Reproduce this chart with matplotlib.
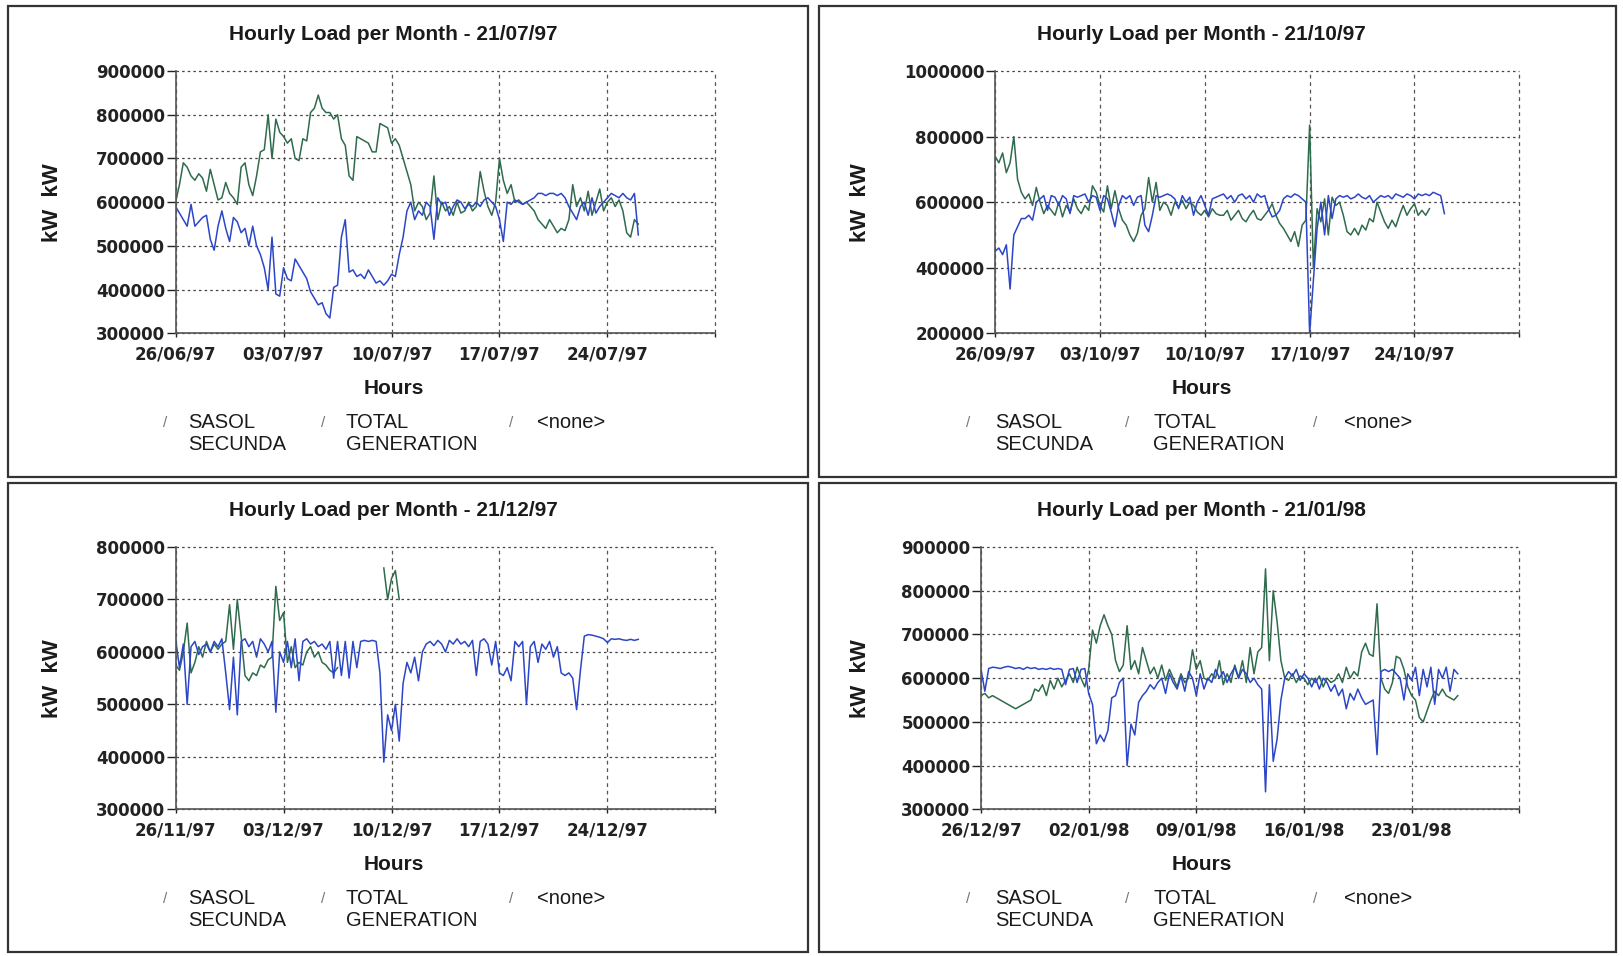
import matplotlib
matplotlib.use("Agg")
import matplotlib.pyplot as plt
import matplotlib.patches as mpatches
import numpy as np
import pandas as pd

nan = np.nan

# hourly load, one value every 6 hours, in thousands of kW
sasol_jul = [590, 575, 560, 545, 595, 545, 555, 565, 570, 515, 490, 545, 580, 540, 510, 565,
             555, 530, 540, 500, 545, 500, 480, 450, 400, 520, 390, 385, 450, 425, 420, 470,
             455, 440, 425, 395, 380, 365, 370, 345, 335, 405, 410, 520, 560, 440, 445, 430,
             435, 425, 445, 430, 415, 420, 410, 420, 435, 430, 480, 520, 580, 600, 560, 580,
             570, 600, 590, 515, 610, 595, 600, 570, 590, 605, 600, 585, 595, 590, 600, 590,
             605, 610, 600, 590, 560, 510, 600, 595, 605, 600, 595, 600, 605, 610, 620, 620,
             615, 620, 620, 615, 620, 610, 590, 575, 560, 590, 600, 570, 610, 575, 590, 600,
             610, 620, 615, 610, 620, 610, 605, 620, 525]
total_jul = [600, 640, 690, 680, 660, 650, 665, 655, 625, 675, 640, 605, 610, 645, 620, 610,
             595, 680, 690, 640, 615, 660, 715, 720, 800, 700, 790, 760, 750, 735, 745, 700,
             695, 745, 740, 805, 815, 845, 815, 805, 805, 790, 800, 745, 730, 660, 650, 750,
             745, 740, 735, 715, 715, 780, 775, 770, 735, 745, 730, 700, 670, 640, 580, 600,
             590, 560, 575, 660, 560, 600, 580, 590, 570, 600, 575, 580, 600, 580, 590, 670,
             625, 590, 570, 600, 700, 650, 620, 640, 600, 605, 595, 600, 590, 580, 560, 550,
             540, 560, 545, 530, 540, 535, 560, 640, 590, 610, 580, 625, 570, 600, 630, 580,
             600, 610, 590, 605, 580, 530, 520, 560, 550]

sasol_oct = [450, 460, 440, 470, 335, 500, 525, 550, 550, 560, 545, 600, 610, 620, 575, 620,
             615, 590, 620, 610, 565, 620, 615, 620, 625, 600, 620, 615, 575, 620, 610, 570,
             525, 590, 620, 610, 620, 590, 615, 620, 530, 510, 560, 620, 615, 620, 625, 620,
             610, 580, 620, 600, 615, 560, 600, 620, 590, 560, 610, 615, 620, 625, 610, 620,
             600, 620, 625, 610, 620, 600, 625, 615, 620, 580, 555, 560, 575, 610, 620, 615,
             625, 620, 610, 600, 200, 360, 520, 600, 500, 620, 550, 610, 620, 615, 620, 610,
             615, 625, 615, 610, 620, 600, 610, 620, 615, 620, 610, 625, 620, 615, 625, 620,
             610, 625, 620, 625, 620, 630, 625, 620, 565]
total_oct = [740, 720, 750, 690, 720, 800, 670, 630, 610, 625, 590, 645, 600, 565, 590, 575,
             560, 600, 555, 590, 570, 610, 580, 565, 590, 575, 650, 630, 590, 570, 650, 580,
             635, 580, 545, 530, 500, 480, 505, 560, 580, 675, 600, 660, 575, 600, 590, 560,
             600, 585, 605, 580, 600, 590, 570, 560, 575, 555, 580, 565, 560, 560, 575, 545,
             560, 575, 550, 540, 560, 575, 550, 545, 560, 575, 595, 560, 535, 520, 500, 480,
             510, 465, 530, 545, 835, 400, 580, 540, 610, 500, 615, 590, 600, 560, 510, 500,
             520, 500, 530, 515, 550, 540, 600, 570, 540, 520, 545, 525, 560, 590, 560, 580,
             595, 560, 575, 560, 580]

sasol_dec = [625, 570, 615, 500, 610, 620, 595, 610, 615, 600, 620, 610, 625, 560, 490, 590,
             480, 620, 625, 610, 620, 590, 625, 615, 600, 620, 485, 600, 580, 620, 570, 625,
             545, 620, 625, 615, 620, 610, 615, 605, 620, 550, 620, 555, 620, 550, 620, 570,
             620, 622, 620, 622, 620, 560, 390, 480, 450, 500, 430, 540, 580, 560, 590, 545,
             600, 615, 620, 612, 622, 615, 600, 622, 615, 625, 615, 620, 610, 622, 555, 620,
             625, 615, 575, 620, 560, 555, 570, 545, 620, 610, 620, 500, 610, 620, 580, 615,
             605, 620, 590, 610, 560, 555, 560, 550, 490, 565, 630, 633, 632, 630, 628, 625,
             618, 625, 624, 625, 623, 622, 624, 622, 624]
total_dec = [575, 565, 600, 655, 560, 580, 610, 590, 620, 600, 615, 605, 615, 620, 690, 605,
             700, 630, 555, 545, 560, 555, 575, 570, 585, 590, 725, 660, 675, 580, 610, 570,
             580, 575, 600, 610, 590, 600, 580, 575, 565, 560, 570, nan, nan, nan, nan, nan,
             nan, nan, nan, nan, nan, nan, 760, 700, 740, 755, 700]

sasol_jan = [620, 570, 622, 625, 624, 622, 625, 627, 625, 622, 624, 620, 625, 622, 624, 620,
             622, 620, 623, 620, 622, 620, 585, 620, 622, 590, 620, 622, 565, 540, 450, 470,
             455, 480, 555, 560, 590, 600, 400, 495, 470, 545, 560, 570, 585, 575, 590, 600,
             565, 610, 590, 575, 605, 570, 615, 600, 560, 610, 575, 600, 590, 620, 600, 615,
             590, 610, 625, 600, 620, 610, 590, 600, 585, 575, 340, 585, 410, 460, 550, 600,
             615, 605, 620, 595, 610, 600, 580, 600, 575, 600, 590, 570, 585, 560, 575, 530,
             565, 550, 575, 555, 540, 545, 550, 425, 615, 620, 615, 620, 610, 600, 550, 610,
             595, 625, 560, 620, 580, 625, 540, 620, 600, 625, 570, 620, 610]
total_jan = [560, 565, 555, 560, 555, 550, 545, 540, 535, 530, 535, 540, 545, 550, 575, 570,
             585, 560, 595, 575, 600, 580, 595, 610, 590, 625, 600, 580, 620, 710, 680, 720,
             745, 720, 700, 640, 615, 630, 720, 620, 640, 610, 670, 640, 610, 625, 600, 630,
             595, 620, 600, 580, 610, 590, 600, 665, 620, 640, 600, 595, 610, 600, 640, 585,
             610, 590, 630, 600, 640, 590, 670, 610, 660, 670, 850, 640, 800, 730, 640, 600,
             595, 610, 590, 605, 600, 585, 600, 590, 605, 580, 600, 590, 595, 610, 590, 625,
             600, 615, 605, 660, 680, 655, 650, 770, 600, 575, 565, 590, 650, 645, 620, 580,
             560, 550, 510, 500, 525, 550, 570, 560, 575, 560, 555, 550, 560]

starts = ["1997-06-26", "1997-09-26", "1997-11-26", "1997-12-26"]
titles = ["Hourly Load per Month - 21/07/97", "Hourly Load per Month - 21/10/97",
          "Hourly Load per Month - 21/12/97", "Hourly Load per Month - 21/01/98"]
date_labels = [["26/06/97", "03/07/97", "10/07/97", "17/07/97", "24/07/97"],
               ["26/09/97", "03/10/97", "10/10/97", "17/10/97", "24/10/97"],
               ["26/11/97", "03/12/97", "10/12/97", "17/12/97", "24/12/97"],
               ["26/12/97", "02/01/98", "09/01/98", "16/01/98", "23/01/98"]]
series_names = ["SASOL\nSECUNDA", "TOTAL\nGENERATION", "<none>"]

sasol = [sasol_jul, sasol_oct, sasol_dec, sasol_jan]
total = [total_jul, total_oct, total_dec, total_jan]

BLUE = "#2c46c8"
GREEN = "#2f6b4d"
W, H = 1623, 956


def fx(x):
    return x / W


def fy(y):
    return 1 - y / H


plt.rcParams["font.family"] = ["DejaVu Sans"]
fig = plt.figure(figsize=(W / 100, H / 100), dpi=100)

# pixel layout of each panel: frame box, axes box, x of text items, vertical offset
layout = [
    dict(box=(8, 6, 808, 477), axes=(175.6, 71, 715.4, 333.3), cx=393.6, ylab=52,
         marks=[165, 323, 511], texts=[188.5, 346, 537], dy=0,
         ylim=(300000, 900000, 100000)),
    dict(box=(819, 6, 1616, 477), axes=(995.1, 71, 1519.3, 333.3), cx=1201.4, ylab=860,
         marks=[968, 1127, 1315.5], texts=[995.6, 1153, 1344], dy=0,
         ylim=(200000, 1000000, 200000)),
    dict(box=(8, 483, 808, 952), axes=(175.6, 71, 715.4, 333.3), cx=393.6, ylab=52,
         marks=[165, 323, 511], texts=[188.5, 346, 537], dy=476,
         ylim=(300000, 800000, 100000)),
    dict(box=(819, 483, 1616, 952), axes=(981, 71, 1519.3, 333.3), cx=1201.4, ylab=860,
         marks=[968, 1127, 1315.5], texts=[995.6, 1153, 1344], dy=476,
         ylim=(300000, 900000, 100000)),
]

for i, lay in enumerate(layout):
    dy = lay["dy"]
    x0, y0, x1, y1 = lay["box"]
    fig.add_artist(mpatches.Rectangle((fx(x0), fy(y1)), (x1 - x0) / W, (y1 - y0) / H,
                                      transform=fig.transFigure, fill=False,
                                      lw=1.6, ec="#333333"))

    l, t, r, b = lay["axes"]
    ax = fig.add_axes([fx(l), fy(b + dy), (r - l) / W, (b - t) / H])

    t_s = pd.date_range(starts[i], periods=len(sasol[i]), freq="6h")
    t_t = pd.date_range(starts[i], periods=len(total[i]), freq="6h")
    ax.plot(t_t, np.array(total[i]) * 1000, color=GREEN, lw=1.1)
    ax.plot(t_s, np.array(sasol[i]) * 1000, color=BLUE, lw=1.1)

    first = pd.Timestamp(starts[i])
    xt = [first + pd.Timedelta(days=7 * k) for k in range(6)]
    ax.set_xlim(xt[0], xt[-1])
    ax.set_xticks(xt)
    ax.set_xticklabels(date_labels[i] + [""])

    lo, hi, step = lay["ylim"]
    yt = np.arange(lo, hi + 1, step)
    ax.set_ylim(lo, hi)
    ax.set_yticks(yt)
    ax.set_yticklabels([str(v) for v in yt])

    ax.set_axisbelow(True)
    ax.yaxis.grid(True, linestyle=(0, (2, 2.5)), color="#444444", lw=0.9)
    ax.xaxis.grid(True, linestyle=(0, (3, 3)), color="#555555", lw=0.9)
    for gl in ax.get_xgridlines() + ax.get_ygridlines():
        gl.set_clip_on(False)
    for s in ["top", "right"]:
        ax.spines[s].set_visible(False)
    for s in ["left", "bottom"]:
        ax.spines[s].set_color("#555555")
        ax.spines[s].set_linewidth(1.2)
    ax.tick_params(axis="y", direction="out", length=6.7, width=1, pad=1,
                   labelsize=12, colors="#222222")
    ax.tick_params(axis="x", direction="out", length=3, width=1, pad=6,
                   labelsize=12, colors="#222222")
    for lab in ax.get_xticklabels() + ax.get_yticklabels():
        lab.set_fontweight("bold")

    fig.text(fx(lay["cx"]), fy(35 + dy), titles[i], ha="center", va="center",
             fontsize=15, fontweight="bold", family=["Liberation Sans", "DejaVu Sans"],
             color="#1a1a1a")
    fig.text(fx(lay["cx"]), fy(389 + dy), "Hours", ha="center", va="center",
             fontsize=15, fontweight="bold", family=["Liberation Sans", "DejaVu Sans"],
             color="#1a1a1a")
    fig.text(fx(lay["ylab"]), fy(203 + dy), "kW  kW", ha="center", va="center",
             rotation=90, fontsize=16, fontweight="bold",
             family=["Liberation Sans", "DejaVu Sans"], color="#1a1a1a")

    for k, name in enumerate(series_names):
        fig.text(fx(lay["marks"][k]), fy(423 + dy), "/", ha="center", va="center",
                 fontsize=11, color="#777777", family=["Liberation Sans", "DejaVu Sans"])
        fig.text(fx(lay["texts"][k]), fy(421 + dy) + 8.5 / H, name, ha="left", va="top",
                 fontsize=14.5, family=["Liberation Sans", "DejaVu Sans"],
                 color="#1a1a1a", linespacing=1.25)

fig.savefig("out.png", dpi=100, facecolor="white")
